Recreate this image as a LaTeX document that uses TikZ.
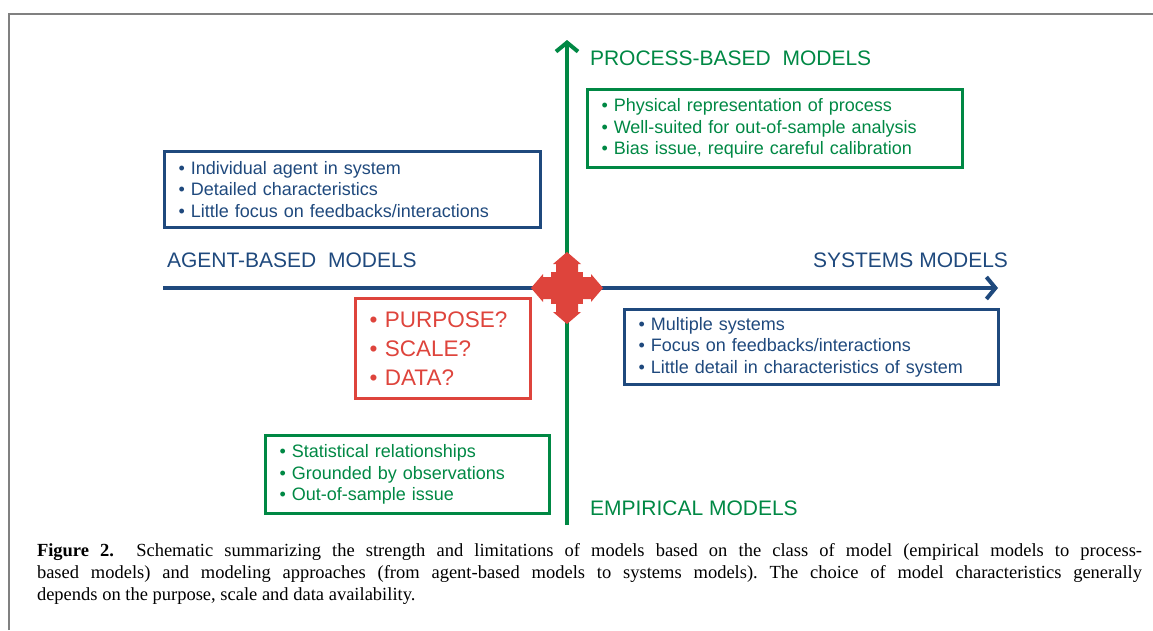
\documentclass[tikz,border=0pt]{standalone}
\usepackage{fontspec}
\setmainfont{Liberation Serif}
\setsansfont{Liberation Sans}
\usetikzlibrary{arrows.meta}
\definecolor{axisblue}{RGB}{31,73,125}
\definecolor{axisgreen}{RGB}{0,136,68}
\definecolor{askred}{RGB}{222,68,60}
\definecolor{framegray}{RGB}{128,128,128}
\frenchspacing

\begin{document}
\begin{tikzpicture}[x=1pt, y=-1pt, line width=4pt]
    \useasboundingbox (0,0) rectangle (1153,630);
    \draw[framegray, line width=2pt] (8.5,630) -- (8.5,13.5) -- (1153,13.5);
    \begin{scope}[every node/.style={draw, line width=3pt, anchor=north west, align=left, font=\sffamily\fontsize{18}{21.5}\selectfont}]
        \node[axisblue, minimum width=376, minimum height=76, text width=348](ag) at (163,150) {\textbullet\ Individual agent in system\\ \textbullet\ Detailed characteristics\\ \textbullet\ Little focus on feedbacks/interactions};
        \node[axisgreen, minimum width=375, minimum height=78, text width=347](pb) at (586,88) {\textbullet\ Physical representation of process\\ \textbullet\ Well-suited for out-of-sample analysis\\ \textbullet\ Bias issue, require careful calibration};
        \node[axisblue, minimum width=374, minimum height=75, text width=346](sy) at (623,308) {\textbullet\ Multiple systems\\ \textbullet\ Focus on feedbacks/interactions\\ \textbullet\ Little detail in characteristics of system};
        \node[axisgreen, minimum width=284, minimum height=78, text width=256](em) at (264,434) {\textbullet\ Statistical relationships\\ \textbullet\ Grounded by observations\\ \textbullet\ Out-of-sample issue};
        \node[askred, minimum width=175, minimum height=100, text width=147, font=\sffamily\fontsize{22.5}{29}\selectfont](ask) at (354,297) {\textbullet\ PURPOSE?\\ \textbullet\ SCALE?\\ \textbullet\ DATA?};
    \end{scope}
    \coordinate(W) at (163,288);
    \coordinate(E) at (998,288);
    \coordinate(S) at (567,525);
    \coordinate(N) at (567,40);
    \coordinate(hub) at (567,288);
    \draw[axisgreen, -{Straight Barb[length=9pt, width=22pt]}] (S) -- (N);
    \draw[axisblue, -{Straight Barb[length=9pt, width=22pt]}] (W) -- (E);
    % four-way marker at the crossing
    \fill[askred, shift={(hub)}] (-16,-16) rectangle (16,16);
    \foreach \a in {0,90,180,270}
        \fill[askred, shift={(hub)}, rotate=\a] (-11,-15) -- (-11,-24) -- (-14,-24) -- (0,-36) -- (14,-24) -- (11,-24) -- (11,-15) -- cycle;
    \begin{scope}[every node/.style={inner sep=0pt, anchor=west, font=\sffamily\fontsize{21}{21}\selectfont}]
        \node[axisgreen](pbl) at (588,58) {PROCESS-BASED~~MODELS};
        \node[axisblue](agl) at (165,260) {AGENT-BASED~~MODELS};
        \node[axisblue, anchor=east](syl) at (1010,260) {SYSTEMS MODELS};
        \node[axisgreen](eml) at (588,508) {EMPIRICAL MODELS};
    \end{scope}
    \node[anchor=north west, inner sep=0pt, text width=1105, align=justify, font=\fontsize{18.5}{22}\selectfont](cap) at (35,541) {\textbf{Figure 2.}\ \ Schematic summarizing the strength and limitations of models based on the class of model (empirical models to process-\linebreak based models) and modeling approaches (from agent-based models to systems models). The choice of model characteristics generally\linebreak depends on the purpose, scale and data availability.};
\end{tikzpicture}
\end{document}
